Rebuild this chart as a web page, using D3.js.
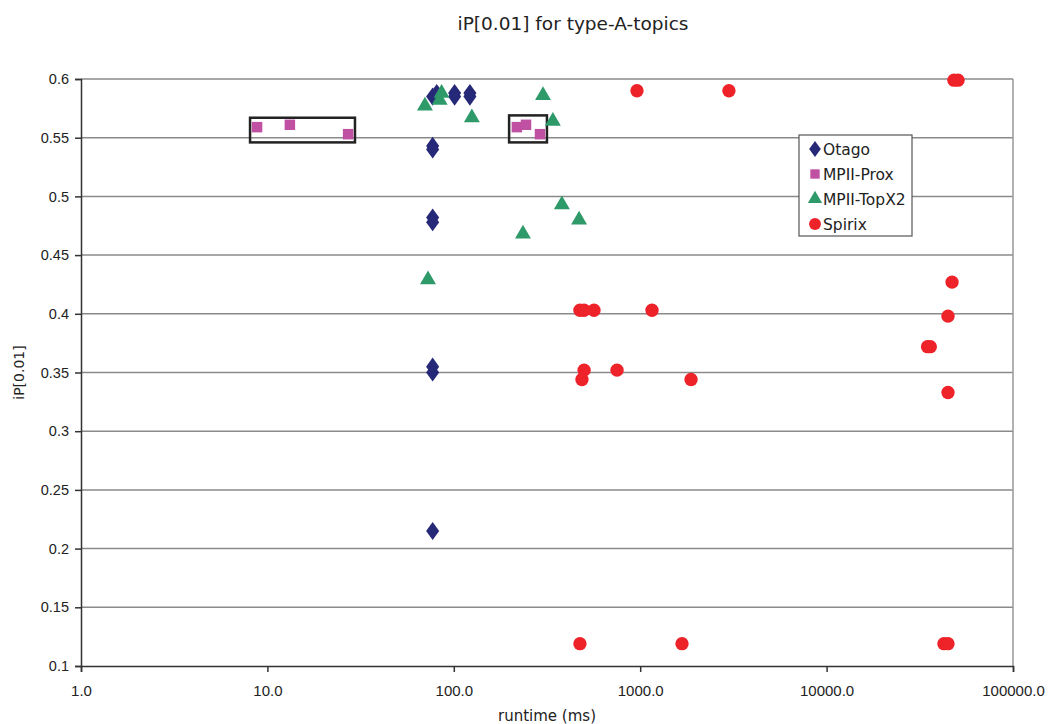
<!DOCTYPE html>
<html>
<head>
<meta charset="utf-8">
<script src="https://cdn.jsdelivr.net/npm/d3@7"></script>
<style>
  body { margin: 0; background: #fff; }
  svg { font-family: "DejaVu Sans", sans-serif; }
</style>
</head>
<body>
<svg id="chart"></svg>
<script>
// runtime (ms) and iP[0.01] per run
const otagoX = [81, 77, 101, 101, 122, 122, 77, 77, 77, 77, 77, 77, 77]
const otagoY = [0.588, 0.585, 0.588, 0.585, 0.588, 0.585, 0.543, 0.540, 0.482, 0.478, 0.355, 0.350, 0.215]

const proxX = [8.8, 13.2, 27.1, 218, 244, 290]
const proxY = [0.559, 0.561, 0.553, 0.559, 0.561, 0.553]

const topx2X = [70, 84, 86, 125, 301, 340, 380, 470, 235, 72.7]
const topx2Y = [0.577, 0.582, 0.588, 0.567, 0.586, 0.564, 0.493, 0.480, 0.468, 0.429]

const spirixX = [961, 2992, 48200, 50700, 475, 500, 565, 1157, 500, 751, 487, 1874,
    47100, 44800, 34800, 36000, 44800, 475, 1676, 42600, 44800]
const spirixY = [0.590, 0.590, 0.599, 0.599, 0.403, 0.403, 0.403, 0.403, 0.352, 0.352, 0.344, 0.344,
    0.427, 0.398, 0.372, 0.372, 0.333, 0.119, 0.119, 0.119, 0.119]

// highlight boxes drawn round the MPII-Prox points [x0, x1, y0, y1]
const boxes = [[8.07, 29.5, 0.546, 0.567], [198, 316, 0.546, 0.569]]

const xTicks = [1, 10, 100, 1000, 10000, 100000]
const yTicks = [0.1, 0.15, 0.2, 0.25, 0.3, 0.35, 0.4, 0.45, 0.5, 0.55, 0.6]

const seriesNames = ["Otago", "MPII-Prox", "MPII-TopX2", "Spirix"]

const w = 1051
const h = 724
const padLeft = 81, padRight = 1013, padTop = 79, padBottom = 666

const svg = d3.select("#chart").attr("width", w).attr("height", h)

const xScale = d3.scaleLog().domain([1, 100000]).range([padLeft, padRight])
const yScale = d3.scaleLinear().domain([0.1, 0.6]).range([padBottom, padTop])

//Gridlines
svg.append("g")
    .selectAll("line")
    .data(yTicks.slice(1))
    .enter()
    .append("line")
    .attr("x1", padLeft)
    .attr("x2", padRight)
    .attr("y1", d => yScale(d))
    .attr("y2", d => yScale(d))
    .attr("stroke", "#8a8a8a")
    .attr("stroke-width", 1.5)

//Right border
svg.append("line")
    .attr("x1", padRight).attr("x2", padRight)
    .attr("y1", padTop).attr("y2", padBottom)
    .attr("stroke", "#999")
    .attr("stroke-width", 1.5)

//Axes
const bottomAxis = d3.axisBottom(xScale)
    .tickValues(xTicks)
    .tickFormat(d => d.toFixed(1))
    .tickSizeOuter(0)
    .tickSize(6)
const leftAxis = d3.axisLeft(yScale)
    .tickValues(yTicks)
    .tickFormat(d => d3.format("")(+d.toFixed(2)))
    .tickSizeOuter(0)
    .tickSize(6)

const gx = svg.append("g")
    .attr("transform", `translate(0, ${padBottom})`)
    .call(bottomAxis)
gx.selectAll("text").attr("font-size", 15).attr("dy", "1.4em").attr("fill", "#222")
gx.selectAll("line, path").attr("stroke", "#333").attr("stroke-width", 1.5)

const gy = svg.append("g")
    .attr("transform", `translate(${padLeft}, 0)`)
    .call(leftAxis)
gy.selectAll("text").attr("font-size", 14.5).attr("x", -12).attr("fill", "#222")
gy.selectAll("line, path").attr("stroke", "#333").attr("stroke-width", 1.5)

//Titles
svg.append("text")
    .attr("x", 573).attr("y", 30)
    .attr("text-anchor", "middle")
    .attr("font-size", 18.5)
    .attr("fill", "#222")
    .text("iP[0.01] for type-A-topics")

svg.append("text")
    .attr("x", (padLeft + padRight) / 2).attr("y", 721)
    .attr("text-anchor", "middle")
    .attr("font-size", 15)
    .attr("fill", "#222")
    .text("runtime (ms)")

svg.append("text")
    .attr("transform", `translate(24, ${(padTop + padBottom) / 2}) rotate(-90)`)
    .attr("text-anchor", "middle")
    .attr("font-size", 14)
    .attr("fill", "#222")
    .text("iP[0.01]")

//Boxes
svg.append("g")
    .selectAll("rect")
    .data(boxes)
    .enter()
    .append("rect")
    .attr("x", d => xScale(d[0]))
    .attr("y", d => yScale(d[3]))
    .attr("width", d => xScale(d[1]) - xScale(d[0]))
    .attr("height", d => yScale(d[2]) - yScale(d[3]))
    .attr("fill", "none")
    .attr("stroke", "#222")
    .attr("stroke-width", 2.5)

//Symbols
const colors = ["#262878", "#c050a2", "#2e9a6a", "#ee2229"]
const symbols = [d3.symbolDiamond, d3.symbolSquare, d3.symbolTriangle, d3.symbolCircle]
const sizes = [95, 110, 110, 140]
const xs = [otagoX, proxX, topx2X, spirixX]
const ys = [otagoY, proxY, topx2Y, spirixY]

xs.forEach((arr, s) => {
    const pts = arr.map((x, i) => [x, ys[s][i]])
    const sym = d3.symbol().type(symbols[s]).size(sizes[s])
    svg.append("g")
        .selectAll("path")
        .data(pts)
        .enter()
        .append("path")
        .attr("d", sym)
        .attr("transform", d => {
            const sx = s === 0 ? " scale(1.25,1)" : ""
            return `translate(${xScale(d[0])}, ${yScale(d[1])})${sx}`
        })
        .attr("fill", colors[s])
})

//Legend
const legend = svg.append("g").attr("transform", "translate(799, 135)")
legend.append("rect")
    .attr("width", 113)
    .attr("height", 101)
    .attr("fill", "#fff")
    .attr("stroke", "#555")
    .attr("stroke-width", 1.2)

seriesNames.forEach((name, s) => {
    const yy = 14 + s * 25
    legend.append("path")
        .attr("d", d3.symbol().type(symbols[s]).size(sizes[s] * 0.8))
        .attr("transform", `translate(16, ${yy})${s === 0 ? " scale(1.25,1)" : ""}`)
        .attr("fill", colors[s])
    legend.append("text")
        .attr("x", 24)
        .attr("y", yy + 5.5)
        .attr("font-size", 15.5)
        .attr("fill", "#222")
        .text(name)
})
</script>
</body>
</html>
